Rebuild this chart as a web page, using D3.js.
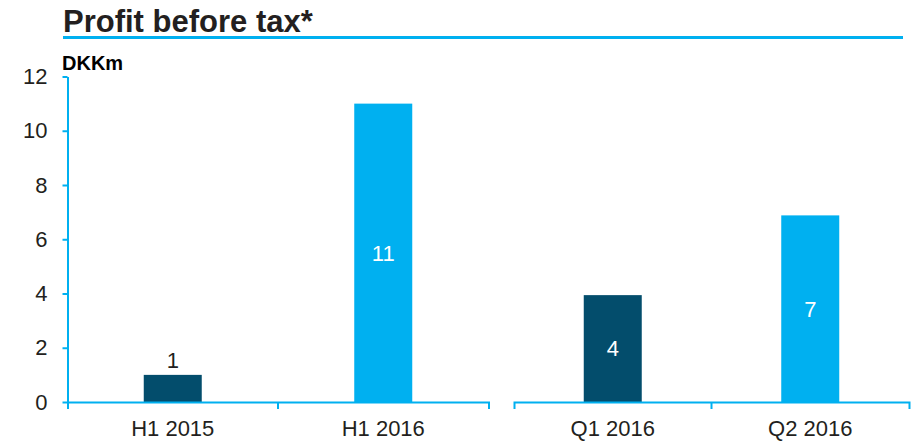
<!DOCTYPE html>
<html>
<head>
<meta charset="utf-8">
<script src="https://cdn.jsdelivr.net/npm/d3@7"></script>
<style>
  body { margin: 0; background: #fff; }
  text { font-family: "Liberation Sans", Arial, sans-serif; }
</style>
</head>
<body>
<div id="chart"></div>
<script>
// data
const categories = ['H1 2015', 'H1 2016', 'Q1 2016', 'Q2 2016'];
const groups = ['H1', 'H1', 'Q', 'Q'];
const profit = [1.0, 11.0, 3.94, 6.88];
const yTicks = [0, 2, 4, 6, 8, 10, 12];
const title = 'Profit before tax*';
const unit = 'DKKm';

const width = 918, height = 441;
const blue = '#00b0f0', navy = '#034d6c', ink = '#231f20';
const fontSize = 22;

const svg = d3.select('#chart')
  .append('svg')
    .attr('width', width)
    .attr('height', height);

// title + rule under it
svg.append('text')
  .attr('x', 63)
  .attr('y', 32)
  .attr('font-size', 31)
  .attr('font-weight', 'bold')
  .attr('fill', ink)
  .text(title);

svg.append('line')
  .attr('x1', 63).attr('x2', 903)
  .attr('y1', 37.5).attr('y2', 37.5)
  .attr('stroke', blue)
  .attr('stroke-width', 3);

svg.append('text')
  .attr('x', 62)
  .attr('y', 70)
  .attr('font-size', 20)
  .attr('font-weight', 'bold')
  .attr('fill', '#000')
  .text(unit);

const y = d3.scaleLinear()
  .domain([0, 12])
  .range([402, 76.5]);

const axisX = 67.5;

// y axis
const yAxis = svg.append('g')
  .attr('transform', `translate(${axisX},0)`)
  .call(d3.axisLeft(y).tickValues(yTicks).tickSizeInner(5).tickSizeOuter(0).tickPadding(15));

yAxis.selectAll('path, line').attr('stroke', blue).attr('stroke-width', 2);
yAxis.selectAll('text').attr('font-size', fontSize).attr('fill', ink);

// one band scale per group of periods
const groupNames = Array.from(new Set(groups));
const groupRanges = { H1: [axisX, 488.5], Q: [514, 909] };
const barWidth = 58;

const bands = {};
groupNames.forEach(g => {
  const cats = categories.filter((c, i) => groups[i] === g);
  bands[g] = d3.scaleBand().domain(cats).range(groupRanges[g]).padding(0);
});

const shade = d3.scaleOrdinal().domain([0, 1]).range([navy, blue]);

const rows = categories.map((c, i) => ({
  cat: c,
  group: groups[i],
  value: profit[i],
  pos: bands[groups[i]].domain().indexOf(c)
}));

// bars
svg.selectAll('rect.bar')
  .data(rows)
  .enter()
  .append('rect')
    .attr('class', 'bar')
    .attr('x', d => bands[d.group](d.cat) + bands[d.group].bandwidth() / 2 - barWidth / 2)
    .attr('width', barWidth)
    .attr('y', d => y(d.value))
    .attr('height', d => y(0) - y(d.value))
    .attr('fill', d => shade(d.pos));

// x axes, one segment per group
groupNames.forEach(g => {
  const band = bands[g];
  const ax = svg.append('g')
    .attr('transform', `translate(0,${y(0)})`)
    .call(d3.axisBottom(band).tickSizeInner(0).tickSizeOuter(7).tickPadding(18));
  ax.select('.domain').attr('stroke', blue).attr('stroke-width', 2);
  ax.selectAll('.tick line').remove();
  ax.selectAll('text').attr('font-size', fontSize).attr('fill', ink);

  // divider ticks between periods
  ax.selectAll('line.divider')
    .data(band.domain().slice(1))
    .enter()
    .append('line')
      .attr('class', 'divider')
      .attr('x1', d => band(d)).attr('x2', d => band(d))
      .attr('y1', 0).attr('y2', 7)
      .attr('stroke', blue)
      .attr('stroke-width', 2);
});

// value labels: inside tall bars, above short ones
const fmt = d3.format('.0f');
svg.selectAll('text.value')
  .data(rows)
  .enter()
  .append('text')
    .attr('class', 'value')
    .attr('x', d => bands[d.group](d.cat) + bands[d.group].bandwidth() / 2)
    .attr('y', d => d.value > 2 ? (y(d.value) + y(0)) / 2 : y(d.value) - 7)
    .attr('dy', d => d.value > 2 ? '0.36em' : 0)
    .attr('text-anchor', 'middle')
    .attr('font-size', fontSize)
    .attr('fill', d => d.value > 2 ? '#fff' : ink)
    .text(d => fmt(d.value));
</script>
</body>
</html>
